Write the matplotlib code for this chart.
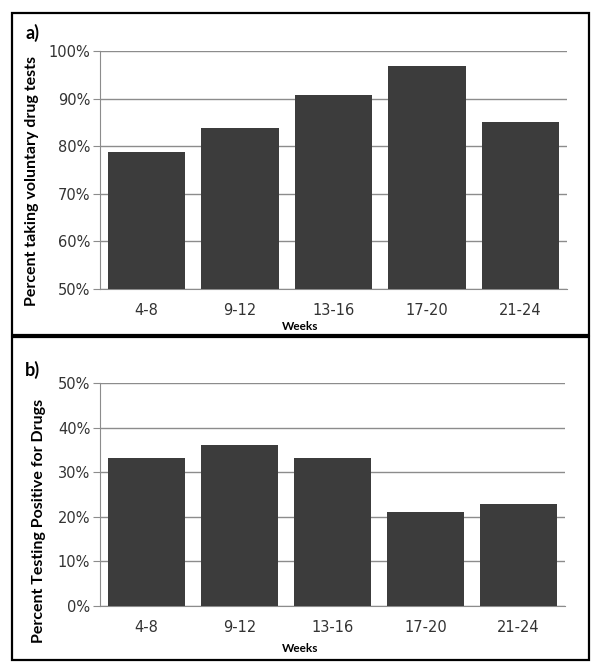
import matplotlib
matplotlib.use("Agg")
import matplotlib.pyplot as plt
from matplotlib.patches import Rectangle
from matplotlib.ticker import PercentFormatter

weeks = ["4-8", "9-12", "13-16", "17-20", "21-24"]
pct_voluntary = [78.8, 83.9, 90.8, 96.8, 85.1]
pct_positive = [33.3, 36.1, 33.3, 21.2, 22.9]

bar_color = "#3c3c3c"
grid_color = "#8c8c8c"
tick_color = "#333333"
label_font = ["Lato", "DejaVu Sans"]

fig = plt.figure(figsize=(6.02, 6.72), dpi=100)

# outer frames of the two panels (pixel boxes converted to figure fractions)
W, H = 602, 672
for x0, y0, x1, y1 in [(12, 13, 589, 335), (12, 337, 589, 660)]:
    fig.add_artist(Rectangle((x0 / W, 1 - y1 / H), (x1 - x0) / W, (y1 - y0) / H,
                             transform=fig.transFigure, fill=False,
                             edgecolor="black", linewidth=1.6))


def panel(rect, values, ylim, yticks, ylabel, label_xy, tag, tag_y, weeks_y):
    ax = fig.add_axes(rect)
    ax.bar(range(len(weeks)), values, width=0.83, color=bar_color, zorder=3)
    ax.set_xlim(-0.5, len(weeks) - 0.5)
    ax.set_ylim(*ylim)
    ax.set_yticks(yticks)
    ax.yaxis.set_major_formatter(PercentFormatter(decimals=0))
    ax.set_xticks(range(len(weeks)))
    ax.set_xticklabels(weeks)
    ax.grid(axis="y", color=grid_color, linewidth=1.0, zorder=0)
    for side in ["top", "right"]:
        ax.spines[side].set_visible(False)
    ax.spines["left"].set_color(grid_color)
    ax.spines["bottom"].set_color(grid_color)
    ax.tick_params(axis="y", length=5, color=grid_color, labelsize=10.5,
                   labelcolor=tick_color, pad=2)
    ax.tick_params(axis="x", length=0, labelsize=10.5, labelcolor=tick_color, pad=10)
    ax.set_ylabel(ylabel, fontsize=11.5, fontweight="bold", family=label_font,
                  va="center")
    ax.yaxis.set_label_coords(*label_xy)
    fig.text(25 / W, 1 - tag_y / H, tag, fontsize=13, fontweight="bold",
             family=label_font, va="center", ha="left")
    fig.text(300 / W, 1 - weeks_y / H, "Weeks", fontsize=8.5, fontweight="bold",
             family=label_font, va="center", ha="center")
    return ax


panel([100 / W, 1 - 289 / H, 467 / W, 238 / H], pct_voluntary, (50, 100),
      [50, 60, 70, 80, 90, 100], "Percent taking voluntary drug tests", (-0.146, 0.455),
      "a)", 33, 326)
panel([100 / W, 1 - 606 / H, 465 / W, 222.7 / H], pct_positive, (0, 50),
      [0, 10, 20, 30, 40, 50], "Percent Testing Positive for Drugs", (-0.131, 0.38),
      "b)", 370, 649)

fig.savefig("out.png", dpi=100)
